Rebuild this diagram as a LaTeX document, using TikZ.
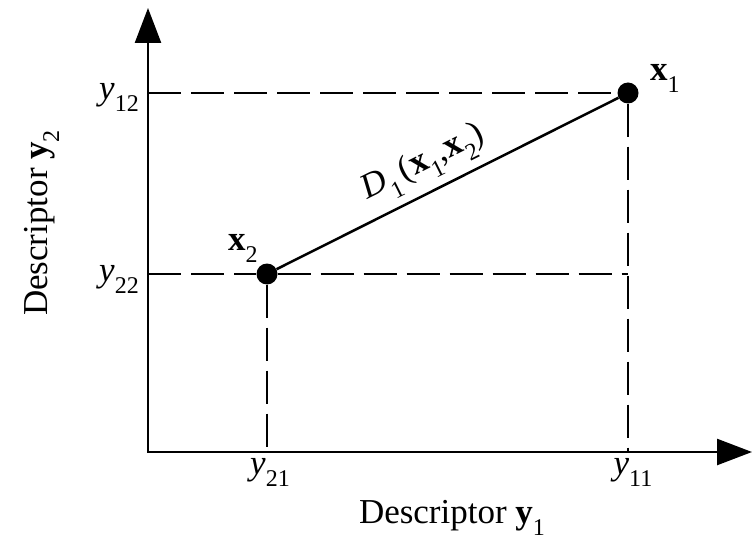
\documentclass[tikz,border=0pt]{standalone}
\usepackage{fontspec}
\setmainfont{Liberation Serif}
\usetikzlibrary{arrows.meta}
\newcommand{\lo}[1]{\raisebox{-12pt}{\fontsize{24}{24}\selectfont #1}}
\begin{document}
\begin{tikzpicture}[x=1pt,y=-1pt,
  font=\fontsize{35}{40}\selectfont,
  axis/.style={line width=2.5pt,
    {Triangle[length=35pt,width=26pt]}-{Triangle[length=35pt,width=26pt]}},
  guide/.style={line width=2pt, dash pattern=on 33pt off 10pt},
  dist/.style={line width=2.5pt},
  dot/.style={circle, fill=black, inner sep=0pt, minimum size=21pt},
  lbl/.style={inner sep=0pt}]
\useasboundingbox (0,0) rectangle (755,548);
% axes
\coordinate (O) at (148,452);
\coordinate (ytip) at (148,8);
\coordinate (xtip) at (752,452);
\coordinate (g1) at (148,93);
\coordinate (g2) at (148,274);
\coordinate (f1) at (628,452);
\coordinate (f2) at (267,452);
\coordinate (c) at (628,274);
\node[dot] (p1) at (628,93) {};
\node[dot] (p2) at (267,274) {};
% guide lines
\draw[guide] (g1) -- (p1);
\draw[guide] (p1) -- (f1);
\draw[guide] (g2) -- (p2);
\draw[guide] (p2) -- (c);
\draw[guide] (p2) -- (f2);
% distance
\draw[dist] (p2) -- (p1);
% axes
\draw[axis] (ytip) -- (O) -- (xtip);
% labels
\node[lbl, anchor=base east] (l12) at (139,100) {\textit{y}\lo{12}};
\node[lbl, anchor=base east] (l22) at (139,281) {\textit{y}\lo{22}};
\node[lbl, anchor=base] (l21) at (270,474) {\textit{y}\lo{21}};
\node[lbl, anchor=base] (l11) at (633,474) {\textit{y}\lo{11}};
\node[lbl, anchor=base west] (lx1) at (650,81) {\textbf{x}\lo{1}};
\node[lbl, anchor=base west] (lx2) at (228,251) {\textbf{x}\lo{2}};
\node[lbl, anchor=base, rotate=26.6] (ld) at (427,170)
  {\textit{D}\lo{1}\kern4pt(\textbf{x}\lo{1},\textbf{x}\lo{2})};
\node[lbl, anchor=base] (ax1) at (452,523) {Descriptor \textbf{y}\lo{1}};
\node[lbl, anchor=base, rotate=90] (ax2) at (47,223) {Descriptor \textbf{y}\lo{2}};
\end{tikzpicture}
\end{document}
